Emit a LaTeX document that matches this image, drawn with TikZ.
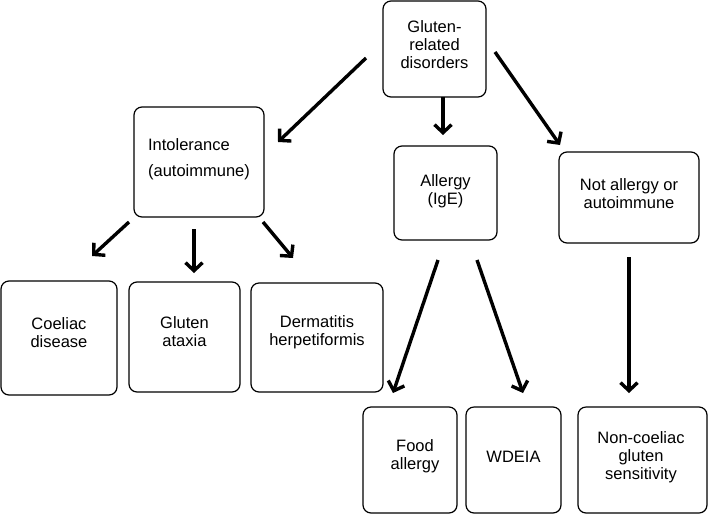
\documentclass[tikz,border=0pt]{standalone}
\usepackage{fontspec}
\setmainfont{Liberation Sans}
\usetikzlibrary{arrows.meta}
\tikzset{
  box/.style={draw, rounded corners=8pt, line width=1.2pt, inner sep=0pt},
  txt/.style={align=center, inner sep=0pt, font=\fontsize{16.5pt}{18pt}\selectfont},
  arr/.style={line width=3.4pt, -{Straight Barb[length=8pt,width=17pt]}},
}
\begin{document}
\begin{tikzpicture}[x=1pt,y=-1pt]
\useasboundingbox (0,0) rectangle (709,515);
\node[box, minimum width=103pt, minimum height=96pt] (top) at (434.5,49) {};
\node[box, minimum width=130pt, minimum height=110pt] (intol) at (199,162) {};
\node[box, minimum width=103pt, minimum height=94pt] (allergy) at (445.5,193) {};
\node[box, minimum width=140pt, minimum height=91pt] (notall) at (629,197.5) {};
\node[box, minimum width=116pt, minimum height=114pt] (coeliac) at (59,338) {};
\node[box, minimum width=111pt, minimum height=110pt] (ataxia) at (184.5,337) {};
\node[box, minimum width=132pt, minimum height=109pt] (derm) at (317,337.5) {};
\node[box, minimum width=94pt, minimum height=106pt] (food) at (410,460) {};
\node[box, minimum width=95pt, minimum height=106pt] (wdeia) at (513.5,460) {};
\node[box, minimum width=129pt, minimum height=106pt] (ncgs) at (642.5,460) {};

\node[txt] (top-t) at (434.5,45) {Gluten-\\related\\disorders};
\node[txt, align=left] (intol-t) at (199,159) {Intolerance\\[8pt](autoimmune)};
\node[txt] (allergy-t) at (445.5,191) {Allergy\\(IgE)};
\node[txt] (notall-t) at (629,194) {Not allergy or\\autoimmune};
\node[txt] (coeliac-t) at (59,333) {Coeliac\\disease};
\node[txt] (ataxia-t) at (184.5,332) {Gluten\\ataxia};
\node[txt] (derm-t) at (317,332) {Dermatitis\\herpetiformis};
\node[txt] (food-t) at (415,456) {Food\\allergy};
\node[txt] (wdeia-t) at (513.5,457) {WDEIA};
\node[txt] (ncgs-t) at (641,457) {Non-coeliac\\gluten\\sensitivity};

\coordinate (a1s) at (366,58);  \coordinate (a1e) at (278,142);
\coordinate (a2s) at (443,97);  \coordinate (a2e) at (443,135);
\coordinate (a3s) at (495,52);  \coordinate (a3e) at (560,145);
\coordinate (a4s) at (129,222); \coordinate (a4e) at (92,256);
\coordinate (a5s) at (194,229); \coordinate (a5e) at (194,273);
\coordinate (a6s) at (263,222); \coordinate (a6e) at (293,258);
\coordinate (a7s) at (438,260); \coordinate (a7e) at (393,393);
\coordinate (a8s) at (477,260); \coordinate (a8e) at (523,393);
\coordinate (a9s) at (629,257); \coordinate (a9e) at (629,393);
\foreach \i in {1,...,9} \draw[arr] (a\i s) -- (a\i e);
\end{tikzpicture}
\end{document}
